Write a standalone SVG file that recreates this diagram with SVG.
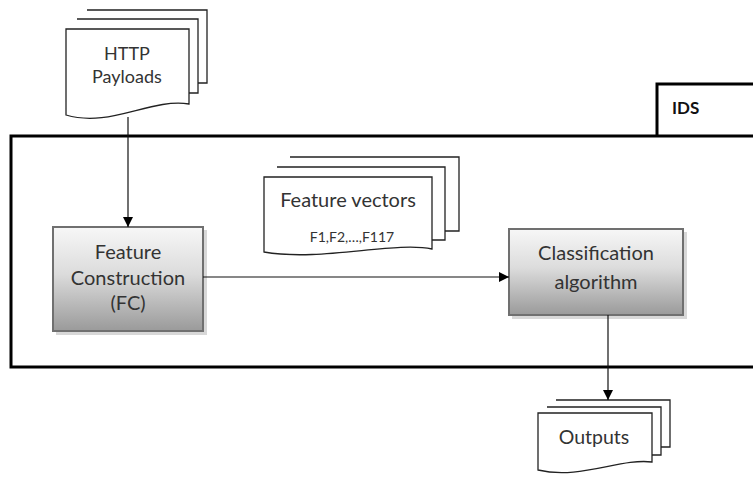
<svg xmlns="http://www.w3.org/2000/svg" width="753" height="477" viewBox="0 0 753 477">
<defs>
<linearGradient id="g" x1="0" y1="0" x2="0" y2="1">
<stop offset="0" stop-color="#f7f7f7"/>
<stop offset="0.45" stop-color="#dcdcdc"/>
<stop offset="1" stop-color="#9a9a9a"/>
</linearGradient>
<marker id="arr" markerWidth="10" markerHeight="10" refX="10" refY="5" orient="auto" markerUnits="userSpaceOnUse">
<path d="M0,0 L10,5 L0,10 Z" fill="#000"/>
</marker>
</defs>
<style>
.t{font-family:Lato,"Open Sans","Liberation Sans",sans-serif;fill:#333;text-anchor:middle}
.doc{fill:#fff;stroke:#222;stroke-width:1.3}
.box{fill:url(#g);stroke:#707070;stroke-width:2}
.sh{fill:#d8d8d8}
.ln{stroke:#111;stroke-width:1.2;fill:none}
</style>
<rect width="753" height="477" fill="#fff"/>
<g id="ids">
<rect x="11" y="136" width="770" height="231" fill="none" stroke="#000" stroke-width="3"/>
<path d="M657,136 V84 H770" fill="none" stroke="#000" stroke-width="3"/>
<text x="672" y="114" style="font-family:Lato,'Open Sans','Liberation Sans',sans-serif;font-weight:bold;font-size:17px;fill:#111">IDS</text>
</g>
<g id="http">
<path class="doc" d="M87,10 H207 V83 H198"/>
<path class="doc" d="M77,19 H198 V93 H189"/>
<path class="doc" d="M66,29 H189 V104 C150,98 110,128 66,115 Z"/>
<text class="t" x="127" y="60" font-size="18">HTTP</text>
<text class="t" x="127" y="83" font-size="18">Payloads</text>
</g>
<g id="fvec">
<path class="doc" d="M290,157 H459 V231 H445"/>
<path class="doc" d="M277,167 H445 V240 H432"/>
<path class="doc" d="M264,177 H432 V249 C395,241 320,262 264,252 Z"/>
<text class="t" x="348" y="207" font-size="20">Feature vectors</text>
<text class="t" x="352" y="242" font-size="14">F1,F2,…,F117</text>
</g>
<g id="fc">
<rect class="sh" x="56" y="230" width="151" height="105"/>
<rect class="box" x="53" y="227" width="150" height="104"/>
<text class="t" x="128" y="259" font-size="20">Feature</text>
<text class="t" x="128" y="285" font-size="20">Construction</text>
<text class="t" x="128" y="310" font-size="20">(FC)</text>
</g>
<g id="cls">
<rect class="sh" x="512" y="232" width="175" height="87"/>
<rect class="box" x="509" y="229" width="174" height="86"/>
<text class="t" x="596" y="260" font-size="20">Classification</text>
<text class="t" x="596" y="289" font-size="20">algorithm</text>
</g>
<g id="outputs">
<path class="doc" d="M556,400 H670 V447 H661"/>
<path class="doc" d="M547,407 H661 V455 H652"/>
<path class="doc" d="M538,413 H652 V462 C620,458 580,480 538,470 Z"/>
<text class="t" x="594" y="444" font-size="19.5">Outputs</text>
</g>
<g id="connectors">
<line class="ln" x1="128" y1="117" x2="128" y2="227" marker-end="url(#arr)"/>
<line class="ln" x1="203" y1="277" x2="509" y2="277" marker-end="url(#arr)"/>
<line class="ln" x1="608" y1="315" x2="608" y2="400" marker-end="url(#arr)"/>
</g>
</svg>
